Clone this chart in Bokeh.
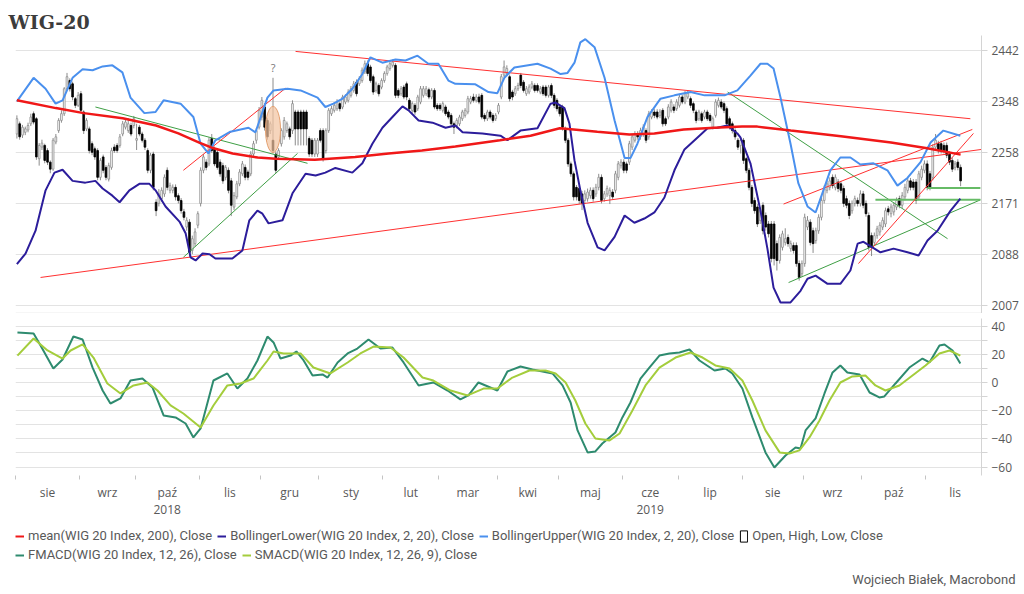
import json
import pandas as pd
from bokeh.plotting import figure
from bokeh.models import (Range1d, FixedTicker, LinearAxis, Legend, LegendItem,
                          ColumnDataSource, Span, Title, CustomJSTickFormatter)
from bokeh.layouts import column
from bokeh.embed import file_html
from bokeh.resources import INLINE
from bokeh.core.properties import value

# ---------------- data ----------------
title_text = "WIG-20"
footer_text = "Wojciech Białek, Macrobond"
month_names = ["sty", "lut", "mar", "kwi", "maj", "cze", "lip", "sie", "wrz", "paź", "lis", "gru"]
price_ticks = [2007, 2088, 2171, 2258, 2348, 2442]
macd_ticks = [-60, -40, -20, 0, 20, 40]
macd_minor = [-50, -30, -10, 10, 30]
macd_grid = [-60, -50, -40, -30, -20, -10, 0, 10, 20, 30, 40]

# daily candles, trading-day index 0 = 2018-08-01
opens = [
 2290,2308,2288,2293,2297,2308,2326,2317,2247,2267,2270,2261,2241,2229,2276,2296,2314,2326,2371,2386,
 2380,2353,2341,2362,2329,2299,2299,2273,2264,2261,2215,2250,2232,2212,2232,2267,2270,2270,2290,2302,
 2296,2305,2305,2279,2302,2290,2279,2261,2227,2255,2173,2171,2179,2187,2227,2193,2193,2198,2184,2176,
 2157,2132,2140,2094,2105,2135,2171,2227,2241,2238,2282,2264,2258,2241,2235,2215,2227,2209,2165,2182,
 2204,2221,2232,2224,2221,2255,
 2279,2302,2320,2338,2314,2296,2279,2255,2250,2273,2285,2296,2299,2296,2329,2329,2329,2329,2329,2282,
 2279,2255,2255,2296,2296,2261,2296,2326,2332,2335,2344,2338,2347,2350,2359,2368,2383,2380,2386,2402,
 2417,2411,2393,2368,2377,2374,2386,2399,2408,2414,2414,2368,2362,2374,2380,2350,2332,2341,2335,2347,
 2359,2362,2369,2356,2368,2341,2341,2332,2338,2329,2323,2308,2305,2308,2317,2323,2329,2347,2356,2350,
 2356,2359,2323,2317,2329,2323,2317,2329,
 2356,2396,2399,2393,2365,2362,2371,2396,2383,2362,2365,2374,2377,2377,2365,2374,2374,2359,2377,2359,
 2350,2338,2338,2299,2279,2238,2221,2198,2196,2187,2176,2179,2184,2193,2187,2198,2215,2179,2187,2184,
 2190,2193,2215,2235,2241,2238,2241,2267,2279,2290,2285,2290,2296,2285,2320,2329,2329,2323,2332,2317,
 2320,2332,2338,2335,2341,2356,2347,2356,2353,2344,2329,2317,2326,2320,2329,2323,2302,2323,2341,2347,
 2344,2335,2317,2308,2296,2279,2270,
 2279,2247,2227,2198,2176,2165,2143,2168,2151,2137,2137,2137,2105,2078,2099,2107,2115,2097,2102,2102,
 2073,2057,2073,2132,2140,2126,2110,2126,2148,2176,2193,2198,2215,2198,2207,2204,2196,2179,2171,2159,
 2171,2176,2171,2187,2171,2151,2118,2107,2118,2124,2132,2137,2162,2154,2157,2165,2179,2168,2182,2193,
 2209,2207,2207,2182,2215,2227,2238,2221,2215,2267,2273,2273,2270,2270,2255,2244,2232,2241,2232]
closes = [
 2317,2285,2302,2299,2305,2320,2311,2250,2270,2274,2244,2241,2229,2279,2285,2314,2326,2371,2393,2371,
 2356,2341,2359,2332,2296,2314,2261,2258,2250,2215,2244,2227,2215,2235,2261,2261,2261,2285,2308,2311,
 2308,2290,2317,2282,2290,2279,2267,2227,2253,2198,2159,2187,2193,2215,2198,2201,2198,2182,2176,2159,
 2148,2143,2091,2113,2124,2154,2227,2250,2232,2279,2261,2238,2232,2221,2209,2232,2193,2168,2184,2204,
 2224,2238,2215,2215,2255,2273,
 2296,2332,2350,2302,2285,2308,2261,2227,2261,2296,2314,2308,2285,2344,2299,2299,2299,2299,2299,2255,
 2255,2279,2279,2279,2247,2296,2332,2335,2341,2347,2335,2356,2356,2365,2371,2380,2362,2389,2405,2417,
 2399,2386,2365,2380,2362,2386,2399,2411,2417,2420,2359,2359,2371,2356,2356,2335,2344,2329,2356,2371,
 2371,2371,2356,2368,2338,2335,2335,2344,2326,2320,2308,2302,2314,2320,2329,2332,2353,2353,2350,2356,
 2347,2320,2317,2329,2320,2314,2323,2341,
 2393,2411,2408,2353,2356,2371,2377,2377,2368,2371,2374,2380,2368,2368,2371,2362,2359,2374,2359,2341,
 2335,2326,2302,2279,2238,2221,2182,2182,2176,2171,2187,2190,2193,2179,2198,2215,2176,2187,2196,2193,
 2182,2221,2238,2241,2227,2227,2273,2285,2290,2285,2296,2302,2279,2326,2329,2323,2320,2329,2308,2308,
 2338,2347,2332,2347,2356,2347,2362,2363,2341,2332,2314,2329,2314,2329,2317,2314,2317,2347,2350,2338,
 2332,2308,2302,2296,2285,2267,2279,
 2244,2227,2198,2171,2159,2137,2159,2126,2132,2121,2081,2081,2078,2115,2121,2113,2105,2105,2094,2073,
 2051,2073,2148,2143,2107,2105,2126,2148,2176,2196,2204,2209,2201,2215,2196,2193,2171,2168,2151,2171,
 2179,2171,2187,2168,2154,2099,2099,2118,2129,2135,2143,2159,2157,2165,2168,2176,2168,2184,2198,2209,
 2198,2198,2176,2221,2229,2238,2198,2198,2267,2279,2261,2261,2261,2253,2241,2229,2238,2232,2209]
highs = [
 2323,2312,2306,2303,2310,2326,2330,2320,2274,2280,2273,2265,2244,2283,2290,2318,2332,2374,2400,2390,
 2384,2356,2365,2367,2332,2318,2303,2277,2268,2265,2248,2254,2236,2240,2266,2272,2274,2290,2313,2316,
 2318,2310,2322,2308,2306,2294,2283,2265,2257,2259,2178,2195,2198,2220,2232,2206,2203,2203,2188,2180,
 2162,2148,2145,2118,2130,2158,2232,2255,2246,2284,2290,2268,2262,2246,2240,2236,2232,2214,2190,2209,
 2229,2243,2237,2228,2260,2278,
 2300,2338,2356,2345,2318,2312,2391,2260,2265,2300,2320,2312,2303,2350,2333,2333,2333,2333,2333,2286,
 2283,2283,2283,2300,2300,2300,2336,2340,2346,2352,2348,2360,2361,2370,2376,2385,2388,2394,2410,2423,
 2423,2415,2397,2384,2381,2390,2403,2415,2422,2425,2418,2372,2376,2378,2384,2354,2348,2345,2360,2376,
 2376,2376,2373,2372,2372,2345,2345,2348,2342,2333,2327,2312,2318,2324,2333,2336,2358,2358,2362,2361,
 2362,2363,2327,2333,2333,2327,2327,2345,
 2398,2423,2414,2397,2369,2376,2382,2400,2387,2376,2379,2385,2381,2381,2376,2378,2378,2378,2381,2363,
 2354,2342,2342,2303,2283,2242,2225,2202,2200,2192,2193,2196,2198,2198,2204,2221,2220,2192,2201,2198,
 2195,2226,2243,2246,2246,2242,2278,2290,2295,2295,2301,2307,2300,2331,2334,2334,2334,2334,2336,2321,
 2343,2352,2343,2352,2362,2360,2367,2368,2357,2348,2333,2333,2330,2333,2333,2327,2321,2352,2355,2352,
 2348,2339,2321,2312,2300,2283,2284,
 2283,2250,2231,2202,2181,2170,2165,2173,2156,2142,2142,2142,2110,2120,2126,2130,2120,2110,2107,2107,
 2078,2078,2154,2150,2145,2131,2131,2153,2181,2201,2209,2215,2220,2220,2212,2209,2201,2184,2176,2176,
 2184,2181,2193,2192,2176,2156,2123,2123,2134,2140,2148,2164,2167,2170,2173,2181,2184,2190,2204,2215,
 2214,2212,2212,2226,2235,2244,2244,2226,2272,2290,2278,2278,2275,2275,2260,2249,2243,2246,2237]
lows = [
 2282,2280,2283,2288,2293,2304,2307,2245,2235,2262,2239,2236,2222,2226,2272,2292,2310,2322,2368,2366,
 2350,2336,2338,2328,2290,2295,2256,2253,2245,2210,2210,2222,2210,2208,2228,2257,2257,2266,2286,2298,
 2292,2286,2300,2262,2286,2275,2262,2222,2222,2193,2150,2166,2174,2182,2193,2188,2188,2176,2171,2154,
 2143,2126,2084,2088,2100,2130,2166,2222,2227,2234,2257,2234,2228,2216,2204,2210,2188,2150,2160,2178,
 2200,2217,2210,2210,2217,2250,
 2273,2298,2314,2296,2280,2290,2256,2222,2245,2268,2280,2292,2280,2290,2270,2270,2270,2270,2270,2250,
 2250,2250,2250,2275,2242,2256,2292,2322,2328,2331,2330,2334,2343,2346,2355,2364,2357,2376,2382,2398,
 2394,2382,2360,2364,2357,2370,2382,2395,2404,2410,2354,2354,2358,2352,2350,2330,2327,2324,2331,2343,
 2355,2358,2352,2352,2334,2331,2331,2328,2322,2316,2304,2290,2300,2304,2313,2319,2325,2343,2346,2346,
 2343,2316,2312,2313,2316,2310,2313,2325,
 2352,2392,2395,2348,2350,2358,2367,2372,2364,2358,2361,2370,2364,2364,2361,2358,2355,2355,2354,2336,
 2330,2321,2296,2274,2233,2216,2176,2176,2170,2160,2171,2174,2179,2174,2182,2193,2171,2174,2182,2170,
 2177,2188,2210,2230,2222,2222,2236,2262,2275,2280,2280,2285,2274,2280,2316,2318,2316,2318,2303,2304,
 2316,2328,2327,2331,2337,2343,2343,2352,2336,2327,2309,2313,2310,2316,2313,2310,2298,2319,2337,2334,
 2327,2304,2298,2291,2280,2262,2256,
 2238,2222,2193,2165,2154,2132,2137,2120,2126,2115,2075,2070,2062,2073,2094,2102,2100,2092,2089,2068,
 2046,2052,2068,2127,2102,2090,2105,2121,2143,2171,2188,2193,2196,2193,2190,2188,2165,2163,2145,2154,
 2166,2166,2166,2163,2149,2094,2085,2102,2113,2118,2127,2132,2151,2148,2151,2160,2163,2163,2176,2188,
 2193,2193,2170,2176,2210,2222,2193,2193,2210,2262,2256,2256,2256,2248,2236,2224,2227,2227,2200]

mean_day = [0, 14, 24, 38, 50, 58, 65.5, 70, 77.5, 86.5, 93, 107, 121.5, 133.5, 145.5, 157.5, 173.5,
            184.5, 195, 200, 208.5, 220, 229, 239.5, 250.5, 260.5, 266, 278, 296, 314, 327, 339]
mean_val = [2350, 2336, 2327, 2318, 2305, 2291, 2275, 2266, 2256, 2249, 2247, 2245, 2250, 2256, 2261, 2268,
            2279, 2287, 2300, 2298, 2294, 2289, 2291, 2298, 2301, 2303, 2303, 2296, 2286, 2275, 2265, 2254]

upper_day = [0, 6, 10.3, 13.9, 16.4, 20, 23.6, 27.2, 30.8, 34.3, 37.9, 40.8, 45.8, 49.8, 52.7, 58.8, 63.4,
             66, 68.8, 71.3, 76.7, 83.2, 85.7, 90, 92.2, 97.2, 101.9, 108, 110.8, 113.7, 117, 120.5, 124.1,
             127, 131.3, 136, 139.6, 143.9, 147.8, 151.4, 155, 157.5, 164.7, 169.4, 172.6, 175.1, 178.7,
             187, 191.7, 195.3, 197.8, 200.3, 202.4, 204.2, 207.5, 211.1, 214.7, 218.3, 220.4, 222.9,
             226.5, 231.2, 236.2, 242, 247, 254.2, 258.8, 263.5, 267.1, 269.6, 271.8, 274.3, 277.9, 280.7,
             284, 286.9, 289.7, 292.2, 295.8, 299.4, 303, 307.7, 312.7, 316.3, 319.9, 324.6, 328.2, 332.8,
             338.9]
upper_val = [2348, 2391, 2371, 2344, 2350, 2391, 2407, 2405, 2412, 2414, 2401, 2355, 2327, 2329, 2350, 2344,
             2320, 2273, 2256, 2279, 2294, 2301, 2293, 2355, 2368, 2371, 2368, 2355, 2338, 2344, 2353, 2371,
             2398, 2429, 2419, 2425, 2423, 2432, 2417, 2417, 2386, 2380, 2379, 2365, 2363, 2391, 2410, 2417,
             2408, 2398, 2400, 2419, 2457, 2463, 2448, 2391, 2314, 2248, 2248, 2273, 2320, 2353, 2359, 2365,
             2359, 2359, 2368, 2395, 2417, 2417, 2408, 2355, 2273, 2205, 2166, 2156, 2193, 2227, 2249, 2249,
             2237, 2239, 2227, 2201, 2214, 2241, 2275, 2296, 2287]

lower_day = [0, 3.1, 6.7, 10.3, 13.5, 16.4, 20, 24.6, 28.2, 30.8, 34.3, 36.9, 40.4, 44, 47.6, 49.8, 53.4,
             58.4, 60.6, 62.4, 64.2, 66.7, 69.2, 71.3, 77.4, 81, 83.5, 86.4, 88.2, 90.4, 95.4, 99, 103.7,
             107.3, 110.8, 114.4, 120.5, 124.1, 127.7, 131.3, 134.9, 138.5, 140.7, 144.3, 149.3, 154, 157.5,
             160.1, 167.2, 173.7, 176.2, 180.9, 187, 191.7, 193.5, 196.7, 198.5, 200.3, 202.4, 205, 208.6,
             211.1, 214.7, 218.3, 221.8, 225.4, 229, 232.6, 236.2, 239.8, 244.5, 248.1, 251.6, 255.2, 258.8,
             259.9, 263.5, 267.1, 269.6, 271.8, 274.3, 277.9, 281.5, 284, 286.9, 291.2, 295.8, 299.4, 302,
             304.1, 310.2, 314.9, 319.9, 323.9, 327.1, 330.7, 335.4, 338.9]
lower_val = [2072, 2089, 2126, 2193, 2223, 2228, 2209, 2206, 2209, 2196, 2184, 2173, 2193, 2204, 2204, 2193,
             2166, 2141, 2122, 2083, 2078, 2089, 2088, 2081, 2081, 2094, 2143, 2159, 2154, 2138, 2143, 2188,
             2221, 2218, 2223, 2231, 2223, 2239, 2273, 2301, 2320, 2339, 2332, 2314, 2310, 2301, 2305, 2293,
             2291, 2287, 2279, 2296, 2300, 2344, 2346, 2336, 2308, 2244, 2193, 2139, 2099, 2094, 2116, 2151,
             2139, 2146, 2156, 2181, 2227, 2263, 2284, 2300, 2301, 2305, 2291, 2284, 2239, 2159, 2097, 2035,
             2012, 2012, 2030, 2049, 2054, 2041, 2041, 2062, 2105, 2108, 2091, 2097, 2091, 2086, 2110, 2126,
             2159, 2179]

fmacd_day = [0.2, 6, 8.5, 13.1, 16.4, 20.3, 23.6, 27.2, 30.8, 33.6, 37.2, 40.8, 45.1, 48.7, 52.7, 57, 60.6,
             63.4, 66, 70.6, 75.6, 79.2, 82.8, 86.4, 90, 92.2, 94.7, 98.3, 100.4, 103, 106.2, 109.8, 111.6,
             115.2, 118.8, 122.3, 126.3, 130.6, 134.9, 138.9, 144.3, 149.6, 154.7, 159.3, 162.2, 165.8,
             172.6, 176.2, 180.9, 185.2, 192.4, 196, 198.9, 201.4, 205, 207.8, 210.3, 215, 217.5, 220.4,
             224, 227.2, 230.8, 234.4, 238, 241.6, 245.2, 250.6, 254.5, 257, 260.6, 264.2, 268.9, 272.1,
             276.1, 279.7, 281.5, 283.3, 286.9, 290.1, 293, 295.8, 298.3, 302.7, 306.3, 309.8, 311.6, 315.6,
             320.6, 325.3, 327.8, 331.4, 333.2, 336.1, 338.9]
fmacd_val = [35.5, 34.8, 26.2, 9.9, 16.3, 32.6, 30.5, 10.6, -5.7, -14.9, -11.3, 1.4, 2.8, -3.5, -23.4, -24.8,
             -29.1, -39, -32.6, 1.4, 6.4, -4.3, 2.8, 15.6, 32.6, 28.4, 17, 19.1, 22, 15.6, 5, 5.7, 3.5, 14.2,
             20.6, 24.1, 30.5, 24.1, 24.8, 14.2, -2.1, 0, -5.7, -12, -9.2, 0, -5.7, 7.8, 11.3, 9.2, 6.4, -2.1,
             -14.2, -34, -49.6, -48.9, -43.3, -35.5, -24.8, -14.2, 2.8, 10.6, 19.1, 20.6, 21.3, 23.4, 15.6,
             8.5, 9.9, 6.4, -4.3, -24.8, -49.6, -60.3, -51.8, -46.1, -46.8, -34, -25.5, -7.8, 7.1, 12.1, 7.1,
             5.7, -7.1, -10.6, -9.9, -0.7, 10.6, 17, 14.2, 26.2, 27, 22.7, 13.5]

smacd_day = [0.2, 6, 11, 16.4, 19.3, 23.6, 27.5, 32.5, 37.2, 41.9, 46.9, 50.5, 55.2, 59.8, 66, 70.6, 75.6,
             80.3, 85, 90, 92.2, 95.8, 101.9, 106.5, 112.6, 118.8, 123.4, 128.1, 134.2, 138.9, 145.7, 149.6,
             155.8, 161.9, 167.6, 172.6, 178, 184.1, 189.9, 193.5, 197.1, 200.6, 204.2, 207.8, 212.9, 216.5,
             221.1, 225.8, 230.8, 236.6, 242, 246.3, 250.9, 256, 260.6, 264.2, 268.9, 274, 277.5, 281.1,
             284.7, 288.3, 291.9, 295.8, 300.1, 304.8, 308.4, 312, 317, 321.7, 326.4, 331.4, 335, 338.9]
smacd_val = [19.1, 31.2, 22.7, 17, 22.7, 27, 17.7, -0.7, -7.8, -2.1, 0, -5.7, -16.3, -22, -31.9, -16.3, -2.1,
             -0.7, 2.8, 15.6, 22, 20.6, 20.6, 10.6, 6.4, 14.2, 20.6, 25.5, 24.8, 17.7, 3.5, 1.4, -5.7, -9.2,
             -4.3, -4.3, 3.5, 8.5, 8.5, 6.4, 0, -12.8, -29.1, -39.7, -41.1, -36.2, -19.9, -2.1, 10.6, 17.7,
             21.3, 17.7, 12.1, 9.9, 1.4, -12.8, -34, -49.6, -50.4, -48.2, -39, -27, -12.8, 0, 4.3, 5, -2.1,
             -5.7, -2.1, 5, 12.1, 20.6, 22.7, 19.1]

# hand-drawn trend lines (trading-day index, price)
red_x0 = [8.5, 100.1, 59.8, 275.4, 302.3]
red_y0 = [2051, 2440, 2227, 2170, 2073]
red_x1 = [346.5, 342.5, 96.5, 343.2, 343.6]
red_y1 = [2263, 2317, 2372, 2298, 2291]
green_x0 = [28.2, 59.8, 255.3, 277.2]
green_y0 = [2338, 2083, 2365, 2043]
green_x1 = [104.4, 100.8, 334.3, 346.1]
green_y1 = [2239, 2256, 2113, 2177]
level_x0 = [308.4, 327.1]
level_x1 = [346.1, 346.1]
level_y = [2177, 2197]
mark_day = [92]
mark_price = [2298]
qmark_price = [2410]

# ---------------- styling ----------------
FONT = "Open Sans"
LEG_FONT = "Roboto"
TXT = "#595959"
GRID = "#e3e3e3"
AX = "#d4d4d4"
C_MEAN = "#f01818"
C_LOW = "#2c1d9b"
C_UP = "#4a90ee"
C_F = "#2e8b6f"
C_S = "#a4cd3c"
C_RED = "#ff3030"
C_GREEN = "#3f9f45"
C_LEVEL = "#66bb66"
NAN = float("nan")

# trading-day calendar for the axis
days = pd.bdate_range("2018-08-01", "2019-11-29")
X_START, X_END = -0.5, 346.5
starts = [i for i in range(len(days)) if i == 0 or days[i].month != days[i - 1].month]
bounds = [s - 0.5 for s in starts] + [len(days) - 0.5]
centers = [(bounds[k] + bounds[k + 1]) / 2 for k in range(len(starts))]
month_map = {f"{c:.1f}": month_names[days[s].month - 1] for c, s in zip(centers, starts)}
ystarts = [i for i in range(len(days)) if i == 0 or days[i].year != days[i - 1].year]
ybounds = [s - 0.5 for s in ystarts] + [X_END]
ycenters = [(ybounds[k] + ybounds[k + 1]) / 2 for k in range(len(ystarts))]
year_map = {f"{c:.1f}": str(days[s].year) for c, s in zip(ycenters, ystarts)}


def map_formatter(m):
    return CustomJSTickFormatter(code="const m = %s; const k = tick.toFixed(1); return (k in m) ? m[k] : '';"
                                 % json.dumps(m))


xr = Range1d(X_START, X_END)
FW = 966
FH_MAIN = 278

# ---------------- price panel ----------------
p = figure(frame_width=FW, frame_height=FH_MAIN, x_range=xr, y_range=Range1d(1995, 2470),
           y_axis_type="log", y_axis_location="right", x_axis_location=None,
           output_backend="svg", toolbar_location=None, min_border_left=15, min_border_right=40,
           min_border_top=35, min_border_bottom=0, outline_line_color=None, title=title_text)
p.title.text_font = "DejaVu Serif"
p.title.text_font_size = "19px"
p.title.text_font_style = "bold"
p.title.text_color = "#3c3c3c"
p.title.offset = -7
p.title.standoff = 5

ya = p.yaxis[0]
ya.ticker = FixedTicker(ticks=price_ticks)
ya.formatter = CustomJSTickFormatter(code="return Math.round(tick).toString();")
ya.axis_line_color = AX
ya.major_tick_line_color = AX
ya.major_tick_out = 6
ya.major_tick_in = 0
ya.minor_tick_line_color = None
ya.major_label_text_font = FONT
ya.major_label_text_font_size = "12px"
ya.major_label_text_color = TXT
ya.major_label_standoff = 4
p.ygrid.ticker = FixedTicker(ticks=price_ticks)
p.ygrid.grid_line_color = GRID
p.xgrid.visible = False
p.add_layout(Span(location=1995.5, dimension="width", line_color=GRID, line_width=1))

n = len(opens)
src = ColumnDataSource(dict(
    x=list(range(n)),
    top=[max(o, c) for o, c in zip(opens, closes)],
    bottom=[min(o, c) for o, c in zip(opens, closes)],
    high=highs, low=lows,
    fill=["white" if c >= o else "black" for o, c in zip(opens, closes)],
    edge=["#8c8c8c" if c >= o else "black" for o, c in zip(opens, closes)],
))
p.segment(x0="x", y0="high", x1="x", y1="low", source=src, line_color="#8c8c8c", line_width=1)
p.vbar(x="x", width=0.62, top="top", bottom="bottom", source=src, fill_color="fill",
       line_color="edge", line_width=0.8)

p.ellipse(x=mark_day, y=mark_price, width=15, height=46, width_units="screen", height_units="screen",
          fill_color="#f2c3a0", fill_alpha=0.7, line_color="#e3a070", line_width=1)
p.text(x=mark_day, y=qmark_price, text=["?"], text_font=value(FONT), text_font_size="11px",
       text_color="#777777", text_align="center", text_baseline="middle")

p.segment(x0=green_x0, y0=green_y0, x1=green_x1, y1=green_y1, line_color=C_GREEN, line_width=1)
p.segment(x0=level_x0, y0=level_y, x1=level_x1, y1=level_y, line_color=C_LEVEL, line_width=2)
p.segment(x0=red_x0, y0=red_y0, x1=red_x1, y1=red_y1, line_color=C_RED, line_width=1)
p.line(upper_day, upper_val, line_color=C_UP, line_width=2)
p.line(lower_day, lower_val, line_color=C_LOW, line_width=2)
p.line(mean_day, mean_val, line_color=C_MEAN, line_width=2.5)

# ---------------- MACD panel ----------------
q = figure(frame_width=FW, frame_height=157, x_range=xr, y_range=Range1d(-66, 45.4),
           y_axis_location="right", output_backend="svg", toolbar_location=None,
           min_border_left=15, min_border_right=40, min_border_top=5, min_border_bottom=0,
           outline_line_color=None)
qa = q.yaxis[0]
qa.ticker = FixedTicker(ticks=macd_ticks, minor_ticks=macd_minor)
qa.axis_line_color = AX
qa.major_tick_line_color = AX
qa.minor_tick_line_color = AX
qa.major_tick_out = 6
qa.major_tick_in = 0
qa.minor_tick_out = 6
qa.minor_tick_in = 0
qa.major_label_text_font = FONT
qa.major_label_text_font_size = "12px"
qa.major_label_text_color = TXT
qa.major_label_standoff = 4
q.ygrid.ticker = FixedTicker(ticks=macd_grid)
q.ygrid.grid_line_color = GRID
q.xgrid.visible = False

xa = q.xaxis[0]
xa.ticker = FixedTicker(ticks=centers, minor_ticks=bounds)
xa.formatter = map_formatter(month_map)
xa.axis_line_color = None
xa.major_tick_line_color = None
xa.major_tick_out = 0
xa.major_tick_in = 0
xa.minor_tick_line_color = "#c4c4c4"
xa.minor_tick_out = 4
xa.minor_tick_in = 0
xa.major_label_standoff = 4
xa.major_label_text_font = FONT
xa.major_label_text_font_size = "12px"
xa.major_label_text_color = TXT

yx = LinearAxis(ticker=FixedTicker(ticks=ycenters), formatter=map_formatter(year_map),
                axis_line_color=None, major_tick_line_color=None, major_tick_out=0, major_tick_in=0,
                minor_tick_line_color=None, major_label_standoff=1, major_label_text_font=FONT,
                major_label_text_font_size="12px", major_label_text_color=TXT)
q.add_layout(yx, "below")

q.line(fmacd_day, fmacd_val, line_color=C_F, line_width=2)
q.line(smacd_day, smacd_val, line_color=C_S, line_width=2)

# ---------------- legend / footer strip ----------------
LFH = 52
lf = figure(frame_width=FW, frame_height=LFH, x_range=Range1d(0, 1), y_range=Range1d(0, 1),
            x_axis_location=None, y_axis_location=None, output_backend="svg", toolbar_location=None,
            min_border_left=15, min_border_right=40, min_border_top=0, min_border_bottom=0,
            outline_line_color=None)
lf.grid.visible = False
# legend proxies (renderers with no visible points, carrying the styles)
d_mean = lf.line([NAN], [NAN], line_color=C_MEAN, line_width=2)
d_low = lf.line([NAN], [NAN], line_color=C_LOW, line_width=2)
d_up = lf.line([NAN], [NAN], line_color=C_UP, line_width=2)
d_ohlc = lf.vbar(x=[NAN], top=[NAN], bottom=[NAN], width=0.6, fill_color="white", line_color="black")
d_f = lf.line([NAN], [NAN], line_color=C_F, line_width=2)
d_s = lf.line([NAN], [NAN], line_color=C_S, line_width=2)


def mk_legend(items, ypos):
    return Legend(items=[LegendItem(label=l, renderers=[r]) for l, r in items],
                  orientation="horizontal", location=(0, ypos), margin=0, padding=0, spacing=5,
                  glyph_width=9, glyph_height=14, label_height=14, label_standoff=4,
                  border_line_color=None, background_fill_alpha=0, label_text_font=LEG_FONT,
                  label_text_font_size="13px", label_text_color=TXT)


lf.add_layout(mk_legend([("mean(WIG 20 Index, 200), Close", d_mean),
                         ("BollingerLower(WIG 20 Index, 2, 20), Close", d_low),
                         ("BollingerUpper(WIG 20 Index, 2, 20), Close", d_up),
                         ("Open, High, Low, Close", d_ohlc)], LFH - 27))
lf.add_layout(mk_legend([("FMACD(WIG 20 Index, 12, 26), Close", d_f),
                         ("SMACD(WIG 20 Index, 12, 26, 9), Close", d_s)], LFH - 46))
lf.add_layout(Title(text=footer_text, align="right", offset=-34, text_font=LEG_FONT, text_font_size="13px",
                    text_font_style="normal", text_color=TXT, standoff=3), "below")

lay = column(p, q, lf, spacing=0)
open("out.html", "w").write(file_html(lay, INLINE))
